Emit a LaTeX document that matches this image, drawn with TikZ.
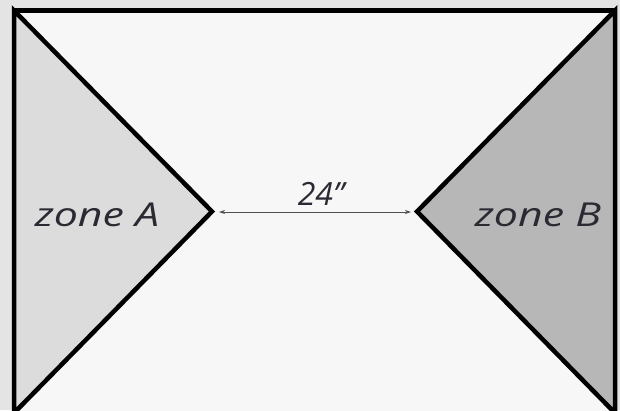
\documentclass[tikz,border=0pt]{standalone}
\usepackage{fontspec}
\setmainfont{Open Sans}
\newfontfamily\zonefont[FakeStretch=1.3]{Open Sans}
\usetikzlibrary{arrows.meta}
\definecolor{bgout}{HTML}{E4E4E4}
\definecolor{inner}{HTML}{F7F7F7}
\definecolor{zoneAfill}{HTML}{DCDCDC}
\definecolor{zoneBfill}{HTML}{B7B7B7}
\definecolor{txt}{HTML}{2A2A33}
\definecolor{dim}{HTML}{505050}
\tikzset{
  frame/.style={draw=black, line width=4.5pt, line join=miter},
  zone/.style={draw=black, line width=4.5pt, line join=miter},
  zonelabel/.style={text=txt, font=\zonefont\itshape\fontsize{33}{40}\selectfont, inner sep=0pt, anchor=base},
  dimline/.style={draw=dim, line width=0.8pt, {Stealth[length=6pt,width=4pt]}-{Stealth[length=6pt,width=4pt]}},
  dimlabel/.style={text=txt, font=\itshape\fontsize{32}{38}\selectfont, inner sep=0pt, anchor=base}
}
\begin{document}
\begin{tikzpicture}[x=1pt,y=-1pt]
\useasboundingbox (0,0) rectangle (620,410);
\fill[bgout] (0,0) rectangle (620,410);
\coordinate (TL) at (14,10.5);
\coordinate (TR) at (615,10.5);
\coordinate (BL) at (14,413);
\coordinate (BR) at (615,413);
\coordinate (AA) at (212,211.5);
\coordinate (AB) at (417,211.5);
\fill[inner] (TL) rectangle (BR);
\filldraw[zone, fill=zoneAfill] (TL) -- (AA) -- (BL) -- cycle;
\filldraw[zone, fill=zoneBfill] (TR) -- (AB) -- (BR) -- cycle;
\draw[frame] (TL) rectangle (BR);
\node[zonelabel] (la) at (97,226) {zone A};
\node[zonelabel] (lb) at (538,226) {zone B};
\coordinate (d1) at (219,212);
\coordinate (d2) at (411,212);
\draw[dimline] (d1) -- (d2);
\node[dimlabel] (dl) at (321,205) {24”};
\end{tikzpicture}
\end{document}
